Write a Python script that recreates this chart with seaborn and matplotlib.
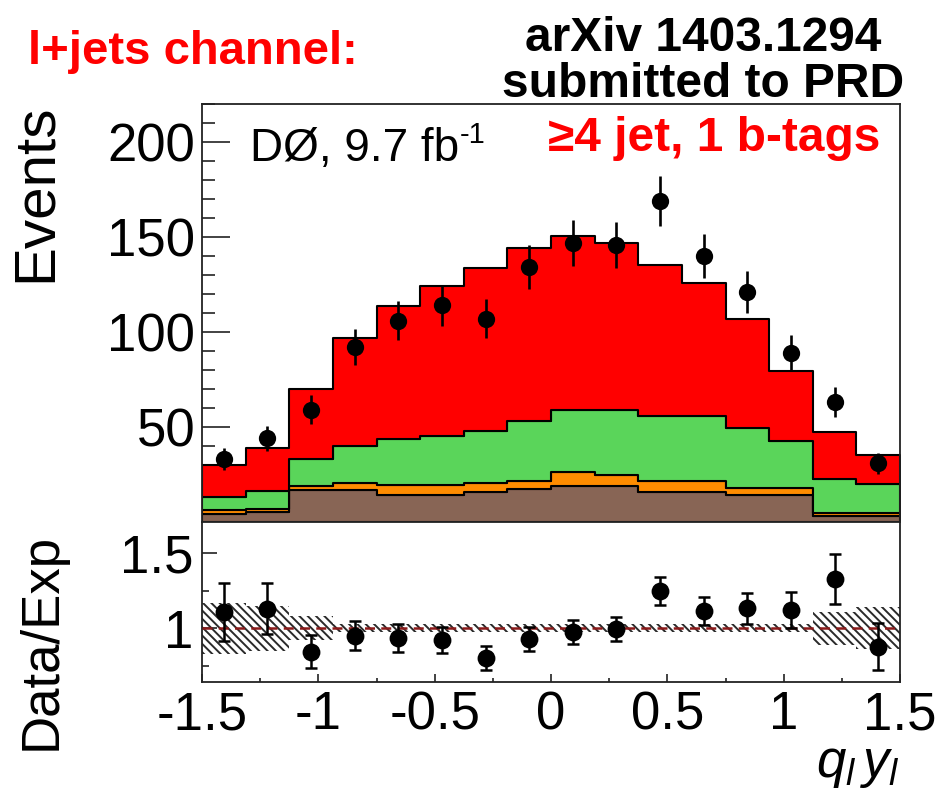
import numpy as np
import pandas as pd
import matplotlib
matplotlib.use("Agg")
import matplotlib.pyplot as plt
from matplotlib.ticker import FixedLocator, MultipleLocator, FuncFormatter
import seaborn as sns

# ---- binning of q_l * y_l ----
xrange_ = (-1.5, 1.5)
nbins = 16

# ---- expected contributions per bin (events) ----
other = [4.4, 5.1, 17.0, 17.0, 14.4, 14.4, 15.6, 17.4, 18.7, 18.7, 15.6, 15.6, 14.4, 14.4, 2.9, 2.9]
multijet = [1.7, 1.7, 2.1, 3.5, 5.1, 5.1, 4.9, 4.3, 7.4, 6.2, 6.1, 6.1, 3.5, 3.5, 1.8, 1.8]
wjets = [7.1, 9.7, 14.1, 19.7, 24.2, 25.6, 27.2, 31.6, 33.0, 34.2, 33.9, 33.9, 31.6, 24.9, 18.1, 15.3]
ttbar = [16.6, 22.4, 36.8, 56.6, 69.8, 78.9, 86.0, 90.9, 91.4, 87.7, 79.8, 70.2, 57.3, 36.5, 24.6, 15.4]

# ---- observed events per bin ----
data = [33, 44, 59, 92, 106, 114, 107, 134, 147, 146, 169, 140, 121, 89, 63, 31]

# ---- relative systematic uncertainty of the expectation ----
syst = [0.17, 0.15, 0.08, 0.025, 0.025, 0.025, 0.025, 0.025, 0.025, 0.025, 0.025, 0.025, 0.025, 0.025, 0.11, 0.14]

xticks_ratio = [-1.5, -1, -0.5, 0, 0.5, 1, 1.5]

colors = {"ttbar": "#ff0000", "wjets": "#5ad55a", "multijet": "#ff8c00", "other": "#886555"}

sns.set_theme(style="white")
plt.rcParams["font.family"] = ["Liberation Sans", "DejaVu Sans"]
plt.rcParams["mathtext.fontset"] = "custom"
plt.rcParams["mathtext.rm"] = "Liberation Sans"
plt.rcParams["mathtext.it"] = "Liberation Sans:italic"
plt.rcParams["mathtext.bf"] = "Liberation Sans:bold"
plt.rcParams["hatch.linewidth"] = 1.4
plt.rcParams["hatch.color"] = "#2a2a2a"
plt.rcParams["text.color"] = "black"
plt.rcParams["xtick.color"] = "black"
plt.rcParams["ytick.color"] = "black"
plt.rcParams["xtick.labelcolor"] = "black"
plt.rcParams["ytick.labelcolor"] = "black"

fig = plt.figure(figsize=(9.4, 7.93), dpi=100)
W, H = 940, 793
ax = fig.add_axes([202 / W, 1 - 522 / H, 698 / W, 418 / H])
axr = fig.add_axes([202 / W, 1 - 682 / H, 698 / W, 160 / H])

edges = np.linspace(xrange_[0], xrange_[1], nbins + 1)
centers = 0.5 * (edges[:-1] + edges[1:])
binw = edges[1] - edges[0]
data_a = np.asarray(data, float)
total = np.sum([ttbar, wjets, multijet, other], axis=0)

# stacked expectation (first hue level ends up on top of the stack)
comps = {"ttbar": ttbar, "wjets": wjets, "multijet": multijet, "other": other}
df = pd.concat([pd.DataFrame({"x": centers, "w": v, "comp": k}) for k, v in comps.items()],
               ignore_index=True)
sns.histplot(data=df, x="x", weights="w", hue="comp", hue_order=list(comps),
             multiple="stack", bins=nbins, binrange=xrange_, element="step", fill=True,
             palette=[colors[k] for k in comps], alpha=1, edgecolor="black",
             linewidth=1.5, legend=False, ax=ax)

# observed data with Poisson uncertainties
ax.errorbar(centers, data_a, yerr=np.sqrt(data_a), fmt="none", ecolor="black",
            elinewidth=1.9, capsize=0, zorder=5)
sns.scatterplot(x=centers, y=data_a, color="black", s=155, linewidth=0, ax=ax, zorder=6)

ax.set_xlim(*xrange_)
ax.set_ylim(0, 220)
ax.set_xlabel("")
ax.set_ylabel("")
ax.xaxis.set_major_locator(FixedLocator([-1, 0, 1]))
ax.xaxis.set_minor_locator(MultipleLocator(0.2))
ax.yaxis.set_major_locator(FixedLocator([50, 100, 150, 200]))
ax.yaxis.set_minor_locator(MultipleLocator(10))
ax.tick_params(axis="x", which="both", direction="in", bottom=True, top=False,
               labelbottom=False, width=1.2, color="#222222")
ax.tick_params(axis="x", which="major", length=7)
ax.tick_params(axis="x", which="minor", length=3.5)
ax.tick_params(axis="y", which="both", direction="in", left=True, right=False,
               width=1.2, color="#222222", labelsize=38, pad=5, labelcolor="black")
ax.tick_params(axis="y", which="major", length=20)
ax.tick_params(axis="y", which="minor", length=9.5)

# ratio panel
ratio = data_a / total
rerr = np.sqrt(data_a) / total
syst_a = np.asarray(syst)
axr.bar(centers, 2 * syst_a, bottom=1 - syst_a, width=binw, color="none",
        edgecolor="#2a2a2a", hatch="\\\\\\\\", linewidth=0, zorder=2)
axr.axhline(1, color="#8b1a1a", ls=(0, (4, 2.5)), lw=1.8, zorder=3)
axr.errorbar(centers, ratio, yerr=rerr, fmt="none", ecolor="black", elinewidth=1.8,
             capsize=4.5, capthick=1.8, zorder=5)
sns.scatterplot(x=centers, y=ratio, color="black", s=165, linewidth=0, ax=axr, zorder=6)

axr.set_xlim(*xrange_)
axr.set_ylim(0.64, 1.71)
axr.set_xlabel("")
axr.set_ylabel("")
axr.xaxis.set_major_locator(FixedLocator(xticks_ratio))
axr.xaxis.set_minor_locator(MultipleLocator(0.25))
axr.xaxis.set_major_formatter(FuncFormatter(lambda v, p: "%g" % v))
axr.yaxis.set_major_locator(FixedLocator([1, 1.5]))
axr.yaxis.set_minor_locator(FixedLocator([0.75, 1.25]))
axr.yaxis.set_major_formatter(FuncFormatter(lambda v, p: "%g" % v))
axr.tick_params(axis="x", which="both", direction="in", bottom=True, top=False,
                width=1.2, color="#222222", labelsize=38, pad=6, labelcolor="black")
axr.tick_params(axis="x", which="major", length=6)
axr.tick_params(axis="x", which="minor", length=3)
axr.tick_params(axis="y", which="both", direction="in", left=True, right=False,
                width=1.2, color="#222222", labelsize=38, pad=6, labelcolor="black")
axr.tick_params(axis="y", which="major", length=11)
axr.tick_params(axis="y", which="minor", length=5)

for a in (ax, axr):
    for s in a.spines.values():
        s.set_color("#222222")
        s.set_linewidth(1.3)
        s.set_visible(True)

# axis titles
fig.text(36 / W, 1 - 103 / H, "Events", rotation=90, ha="center", va="top", fontsize=42)
fig.text(42 / W, 1 - 533 / H, "Data/Exp", rotation=90, ha="center", va="top", fontsize=38)
fig.text(900 / W, 1 - 740 / H, r"$q_{l}\,y_{l}$", ha="right", va="top", fontsize=38)

# annotations
fig.text(28 / W, 1 - 64 / H, "l+jets channel:", color="#ff0000", fontweight="bold",
         fontsize=34, ha="left", va="baseline")
fig.text(703 / W, 1 - 51 / H, "arXiv 1403.1294", color="black", fontweight="bold",
         fontsize=34.5, ha="center", va="baseline")
fig.text(703 / W, 1 - 97 / H, "submitted to PRD", color="black", fontweight="bold",
         fontsize=34.5, ha="center", va="baseline")
fig.text(880 / W, 1 - 151 / H, "≥4 jet, 1 b-tags", color="#ff0000", fontweight="bold",
         fontsize=34.5, ha="right", va="baseline")

# luminosity label with a hyphen-minus superscript
lumi = fig.text(250 / W, 1 - 161 / H, "DØ, 9.7 fb", color="black",
                fontsize=33, ha="left", va="baseline")
renderer = fig.canvas.get_renderer()
bb = lumi.get_window_extent(renderer=renderer)
fig.text((bb.x1 + 1) / (W), 1 - 143 / H, "-1", color="black", fontsize=21,
         ha="left", va="baseline")

fig.savefig("out.png", dpi=100)
